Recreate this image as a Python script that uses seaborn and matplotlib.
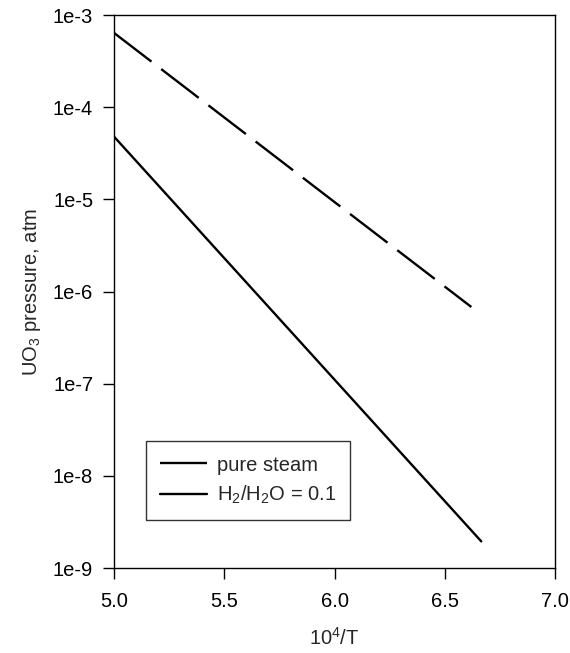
import matplotlib
matplotlib.use("Agg")
import matplotlib.pyplot as plt
import seaborn as sns
import pandas as pd
import numpy as np

# Data
x_steam = [5.0, 6.62]
y_steam = [6.4e-4, 6.8e-7]
x_h2 = [5.0, 6.665]
y_h2 = [4.8e-5, 1.95e-9]
series_labels = ["pure steam", r"H$_2$/H$_2$O = 0.1"]
x_ticks = [5.0, 5.5, 6.0, 6.5, 7.0]
y_ticks = [1e-9, 1e-8, 1e-7, 1e-6, 1e-5, 1e-4, 1e-3]
y_ticklabels = ["1e-9", "1e-8", "1e-7", "1e-6", "1e-5", "1e-4", "1e-3"]

sns.set_theme(style="ticks")
plt.rcParams['font.family'] = ['Liberation Sans', 'DejaVu Sans']
plt.rcParams['mathtext.fontset'] = 'custom'
plt.rcParams['mathtext.rm'] = 'Liberation Sans'
plt.rcParams['mathtext.it'] = 'Liberation Sans'

FS = 14.5

df = pd.concat([
    pd.DataFrame({"x": x_steam, "y": y_steam, "series": series_labels[0]}),
    pd.DataFrame({"x": x_h2, "y": y_h2, "series": series_labels[1]}),
])

fig = plt.figure(figsize=(5.70, 6.53), dpi=100)
ax = fig.add_axes([0.2, 0.130, 0.774, 0.847])

sub = df[df.series == series_labels[0]]
sns.lineplot(data=sub, x="x", y="y", ax=ax, color="black", lw=1.7,
             label=series_labels[0], linestyle=(0, (20, 5.2)))
sub = df[df.series == series_labels[1]]
sns.lineplot(data=sub, x="x", y="y", ax=ax, color="black", lw=1.7,
             label=series_labels[1])

ax.set_yscale("log")
ax.set_xlim(5.0, 7.0)
ax.set_ylim(1e-9, 1e-3)
ax.set_xticks(x_ticks)
ax.set_xticklabels([f"{v:.1f}" for v in x_ticks])
ax.set_yticks(y_ticks)
ax.set_yticklabels(y_ticklabels)
ax.minorticks_off()
ax.tick_params(axis="both", direction="out", length=8, width=1, labelsize=FS,
               colors="black", pad=7)
ax.tick_params(axis="x", pad=9)
for s in ax.spines.values():
    s.set_linewidth(1)
    s.set_color("black")

ax.set_xlabel(r"10$^4$/T", fontsize=FS, labelpad=12)
ax.set_ylabel(r"UO$_3$ pressure, atm", fontsize=FS, labelpad=7)

leg = ax.legend(loc="lower left", bbox_to_anchor=(0.073, 0.087), borderaxespad=0,
                fontsize=FS, frameon=True, fancybox=False, edgecolor="black",
                handlelength=2.3, handletextpad=0.5, labelspacing=0.45,
                borderpad=0.7)
leg.get_frame().set_linewidth(1)

fig.savefig("out.png", dpi=100)
